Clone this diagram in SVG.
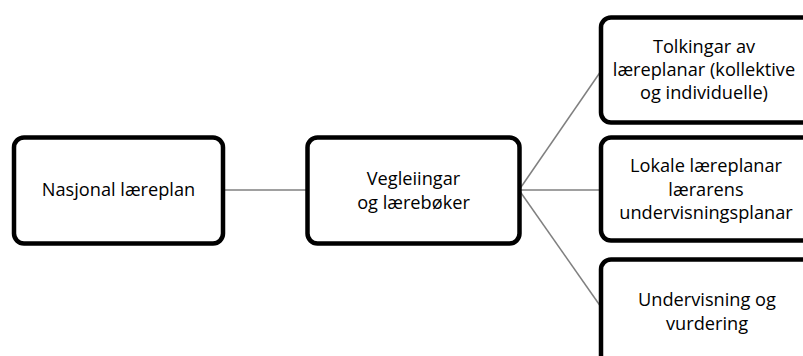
<svg xmlns="http://www.w3.org/2000/svg" width="803" height="356" viewBox="0 0 803 356">
<style>
.box{fill:#fff;stroke:#000;stroke-width:4.5}
.con{stroke:#808080;stroke-width:1.5;fill:none}
text{font-family:"Open Sans","Noto Sans",sans-serif;font-size:18.2px;fill:#000;text-anchor:middle}
</style>
<rect width="803" height="356" fill="#fff"/>
<g id="connectors">
<line class="con" x1="223" y1="190" x2="308" y2="190"/>
<line class="con" x1="519" y1="190" x2="601" y2="71"/>
<line class="con" x1="519" y1="190" x2="601" y2="190"/>
<line class="con" x1="519" y1="190" x2="601" y2="307"/>
</g>
<g id="n1">
<rect class="box" x="14" y="137.5" width="209" height="106" rx="10"/>
<text x="118.5" y="196">Nasjonal læreplan</text>
</g>
<g id="n2">
<rect class="box" x="307.5" y="137.5" width="212" height="106" rx="10"/>
<text x="413.5" y="185">Vegleiingar</text>
<text x="413.5" y="209">og lærebøker</text>
</g>
<g id="n3">
<rect class="box" x="601" y="17.5" width="212" height="105" rx="10"/>
<text x="704" y="53">Tolkingar av</text>
<text x="704" y="76">læreplanar (kollektive</text>
<text x="704" y="99">og individuelle)</text>
</g>
<g id="n4">
<rect class="box" x="601" y="137.5" width="212" height="103" rx="10"/>
<text x="706" y="172">Lokale læreplanar</text>
<text x="706" y="196">lærarens</text>
<text x="706" y="219">undervisningsplanar</text>
</g>
<g id="n5">
<rect class="box" x="601" y="259.5" width="212" height="110" rx="10"/>
<text x="707" y="306">Undervisning og</text>
<text x="707" y="330">vurdering</text>
</g>
</svg>
